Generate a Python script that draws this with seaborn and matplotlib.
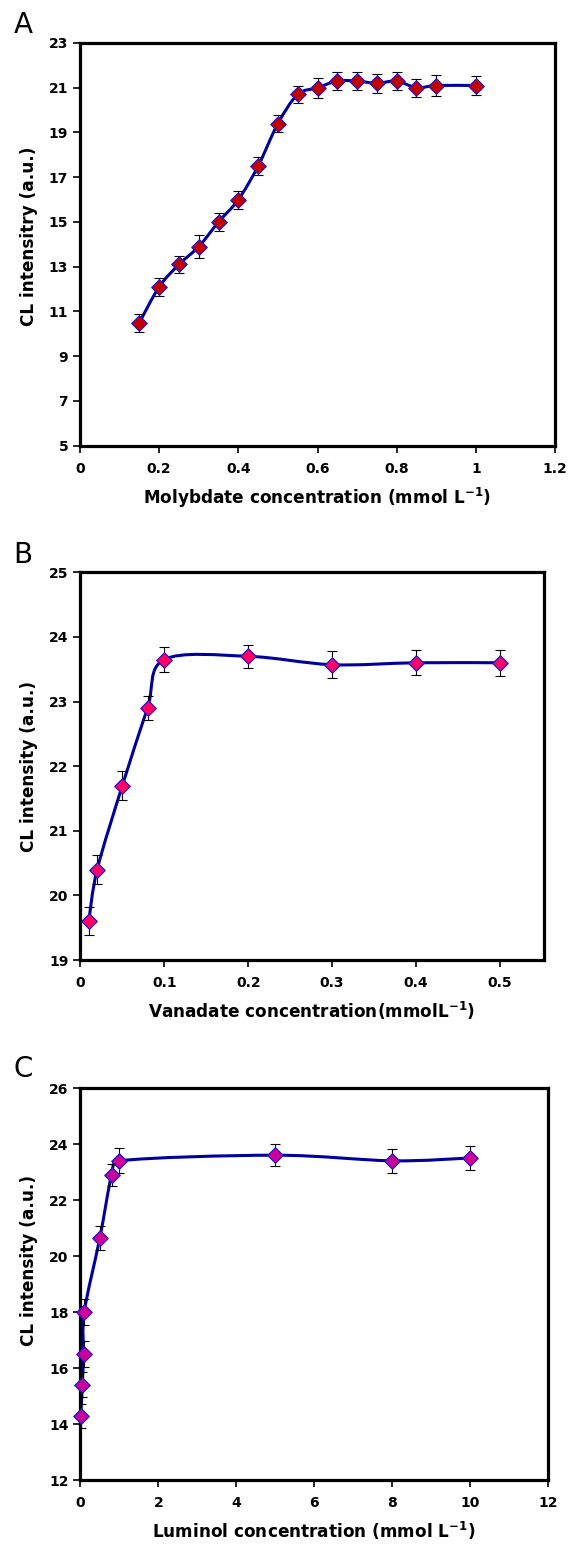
import numpy as np
import pandas as pd
import seaborn as sns
import matplotlib
matplotlib.use("Agg")
import matplotlib.pyplot as plt
from matplotlib.path import Path
from matplotlib.patches import PathPatch

# ---------------- data ----------------
mo_conc = [0.15, 0.2, 0.25, 0.3, 0.35, 0.4, 0.45, 0.5, 0.55, 0.6, 0.65, 0.7, 0.75, 0.8, 0.85, 0.9, 1.0]
mo_cl = [10.5, 12.1, 13.1, 13.9, 15.0, 16.0, 17.5, 19.4, 20.7, 21.0, 21.3, 21.3, 21.2, 21.3, 21.0, 21.1, 21.1]
mo_err = [0.4, 0.4, 0.4, 0.5, 0.4, 0.4, 0.4, 0.38, 0.4, 0.45, 0.4, 0.4, 0.42, 0.42, 0.4, 0.45, 0.42]

v_conc = [0.01, 0.02, 0.05, 0.08, 0.1, 0.2, 0.3, 0.4, 0.5]
v_cl = [19.6, 20.4, 21.7, 22.9, 23.65, 23.7, 23.57, 23.6, 23.6]
v_err = [0.22, 0.22, 0.22, 0.19, 0.2, 0.18, 0.21, 0.19, 0.2]

lum_conc = [0.01, 0.05, 0.08, 0.1, 0.5, 0.8, 1.0, 5.0, 8.0, 10.0]
lum_cl = [14.3, 15.4, 16.5, 18.0, 20.65, 22.9, 23.4, 23.6, 23.4, 23.5]
lum_err = [0.43, 0.45, 0.45, 0.48, 0.43, 0.39, 0.45, 0.4, 0.42, 0.43]

a_xticks = [0, 0.2, 0.4, 0.6, 0.8, 1.0, 1.2]
a_xticklabels = ["0", "0.2", "0.4", "0.6", "0.8", "1", "1.2"]
a_yticks = [5, 7, 9, 11, 13, 15, 17, 19, 21, 23]

b_xticks = [0, 0.1, 0.2, 0.3, 0.4, 0.5]
b_xticklabels = ["0", "0.1", "0.2", "0.3", "0.4", "0.5"]
b_yticks = [19, 20, 21, 22, 23, 24, 25]

c_xticks = [0, 2, 4, 6, 8, 10, 12]
c_xticklabels = ["0", "2", "4", "6", "8", "10", "12"]
c_yticks = [12, 14, 16, 18, 20, 22, 24, 26]

# ---------------- style ----------------
sns.set_theme(style="ticks")
plt.rcParams.update({
    "font.family": ["DejaVu Sans"],
    "font.weight": "bold",
    "mathtext.fontset": "dejavusans",
    "mathtext.default": "bf",
    "axes.linewidth": 2.3,
    "axes.edgecolor": "black",
    "text.color": "black",
    "axes.labelcolor": "black",
    "xtick.color": "black",
    "ytick.color": "black",
})

W, H = 568, 1550
fig = plt.figure(figsize=(W / 100, H / 100), dpi=100)
fig.patch.set_facecolor("white")

LINE_COLOR = "#00009c"
EDGE_COLOR = "#1a1acc"


def excel_smooth(ax, xs, ys, **kw):
    pts = ax.transData.transform(np.column_stack([xs, ys]))
    n = len(pts)
    verts = [pts[0]]
    codes = [Path.MOVETO]
    for i in range(n - 1):
        p0 = pts[i - 1] if i > 0 else pts[i]
        p1 = pts[i]
        p2 = pts[i + 1]
        p3 = pts[i + 2] if i + 2 < n else pts[i + 1]
        d02 = np.linalg.norm(p2 - p0)
        d12 = np.linalg.norm(p2 - p1)
        d13 = np.linalg.norm(p3 - p1)
        f1 = 1 / 6 if d02 / 6 < d12 / 2 else d12 / (2 * d02)
        f2 = 1 / 6 if d13 / 6 < d12 / 2 else d12 / (2 * d13)
        c1 = p1 + f1 * (p2 - p0)
        c2 = p2 - f2 * (p3 - p1)
        verts += [c1, c2, p2]
        codes += [Path.CURVE4] * 3
    verts = ax.transData.inverted().transform(np.array(verts))
    patch = PathPatch(Path(verts, codes), facecolor="none", **kw)
    ax.add_patch(patch)


def panel(rect, xs, ys, es, xlim, ylim, xticks, xticklabels, yticks, face,
          letter, letter_px, xlabel, ylabel, xlab_y, ylab_xy):
    ax = fig.add_axes(rect)
    ax.set_xlim(*xlim)
    ax.set_ylim(*ylim)
    ax.set_xticks(xticks, xticklabels)
    ax.set_yticks(yticks, [str(t) for t in yticks])
    ax.tick_params(axis="both", direction="out", length=5, width=1.2,
                   labelsize=10, colors="black")
    ax.tick_params(axis="x", pad=6.5)
    ax.tick_params(axis="y", pad=3.5)
    for s in ax.spines.values():
        s.set_visible(True)
        s.set_linewidth(2.3)
        s.set_color("black")

    df = pd.DataFrame({"conc": xs, "cl": ys, "err": es})
    excel_smooth(ax, df["conc"].values, df["cl"].values,
                 edgecolor=LINE_COLOR, linewidth=2.2, zorder=2)
    ax.errorbar(df["conc"], df["cl"], yerr=df["err"], fmt="none",
                ecolor="black", elinewidth=0.8, capsize=3.3, capthick=0.8,
                zorder=3)
    sns.scatterplot(data=df, x="conc", y="cl", marker="D", s=62,
                    color=face, edgecolor=EDGE_COLOR, linewidth=0.9,
                    zorder=4, ax=ax, legend=False, clip_on=False)

    ax.set_xlabel(xlabel, fontsize=12.2, fontweight="bold")
    ax.xaxis.label.set_va("baseline")
    ax.xaxis.set_label_coords(0.5, xlab_y)
    ax.set_ylabel(ylabel, fontsize=12.2, fontweight="bold")
    ax.yaxis.label.set_rotation_mode("anchor")
    ax.yaxis.label.set_va("baseline")
    ax.yaxis.label.set_ha("center")
    ax.yaxis.set_label_coords(*ylab_xy)

    fig.text(letter_px[0] / W, 1 - letter_px[1] / H, letter, fontsize=20,
             fontweight="normal", ha="left", va="baseline", color="black")
    return ax


def rect_px(l, r, t, b):
    return [l / W, 1 - b / H, (r - l) / W, (b - t) / H]


panel(rect_px(80, 555, 43, 445.7), mo_conc, mo_cl, mo_err,
      (0, 1.2), (5, 23), a_xticks, a_xticklabels, a_yticks, "#c00000",
      "A", (13.5, 33), r"Molybdate concentration (mmol L$^{-1}$)",
      "CL intensitry (a.u.)", -0.1448, (-0.097, 0.52))

panel(rect_px(80.4, 543.5, 572.3, 960), v_conc, v_cl, v_err,
      (0, 0.552), (19, 25), b_xticks, b_xticklabels, b_yticks, "#ff0066",
      "B", (13.5, 563), r"Vanadate concentration(mmolL$^{-1}$)",
      "CL intensity (a.u.)", -0.1488, (-0.100, 0.50))

panel(rect_px(80.4, 547.8, 1088, 1480), lum_conc, lum_cl, lum_err,
      (0, 12), (12, 26), c_xticks, c_xticklabels, c_yticks, "#cc0099",
      "C", (14, 1077), r"Luminol concentration (mmol L$^{-1}$)",
      "CL intensity (a.u.)", -0.148, (-0.099, 0.56))

fig.savefig("out.png", dpi=100, facecolor="white")
